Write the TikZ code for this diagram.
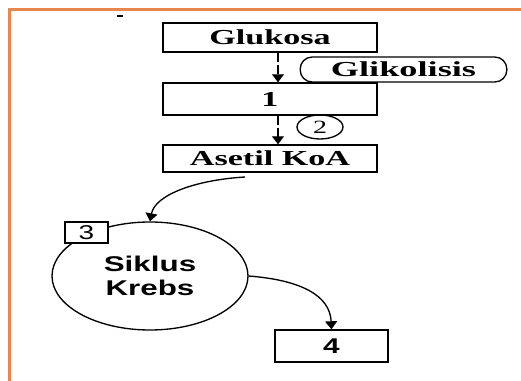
\documentclass[tikz,border=0pt]{standalone}
\usepackage{fontspec}
\usepackage{graphicx}
\setmainfont{Liberation Serif}
\setsansfont{Liberation Sans}
\usetikzlibrary{arrows.meta,shapes.geometric}
\definecolor{framecol}{HTML}{E8874C}
\newcommand{\hstretch}[2]{\scalebox{#1}[1]{#2}}
\begin{document}
\begin{tikzpicture}[x=0.75pt,y=-0.75pt,
  box/.style={draw, line width=1.1pt, inner sep=0pt, font=\fontsize{16}{18}\selectfont\bfseries},
  arr/.style={line width=1pt, -{Triangle[width=9pt,length=6pt]}},
  varr/.style={arr, dash pattern=on 7pt off 2pt},
  ]
\useasboundingbox (0,0) rectangle (521,381);
\fill[white] (0,0) rectangle (521,381);
\draw[framecol, line width=2.7pt] (9.5,381) -- (9.5,9.5) -- (521,9.5);
\draw[line width=1.5pt] (117,16.5) -- (123,16.5);

\node[box, minimum width=160.5pt, minimum height=21.75pt] (glu) at (270,37.5) {\hstretch{1.6}{Glukosa}};
\node[box, minimum width=160.5pt, minimum height=24pt] (one) at (270,99) {\hstretch{1.6}{1}};
\node[box, minimum width=160.5pt, minimum height=20.25pt] (ase) at (270,158.5) {\hstretch{1.6}{Asetil KoA}};

\node[draw, line width=1pt, rounded corners=9pt, minimum width=155pt, minimum height=18.75pt, inner sep=0pt, font=\fontsize{16}{18}\selectfont\bfseries] (gli) at (403.5,69.5) {\hstretch{1.7}{Glikolisis}};
\node[draw, ellipse, line width=1pt, minimum width=34.5pt, minimum height=18pt, inner sep=0pt, font=\fontsize{14}{14}\selectfont] (two) at (320,127) {\hstretch{1.5}{2}};

\coordinate (ax) at (278,0);
\draw[varr] (glu.south -| ax) -- (one.north -| ax);
\draw[varr] (one.south -| ax) -- (ase.north -| ax);

\node[draw, ellipse, line width=1pt, minimum width=147pt, minimum height=81pt, inner sep=0pt, align=center, font=\sffamily\bfseries\fontsize{16}{17.5}\selectfont] (krebs) at (150,276) {\hstretch{1.47}{Siklus}\\\hstretch{1.47}{Krebs}};
\node[draw, fill=white, line width=1pt, minimum width=32.25pt, minimum height=15.75pt, inner sep=0pt, font=\sffamily\fontsize{15}{15}\selectfont] (three) at (86.5,232.5) {\hstretch{1.4}{3}};
\node[box, font=\sffamily\bfseries\fontsize{16}{16}\selectfont, minimum width=84.75pt, minimum height=24pt] (four) at (331.5,346) {\hstretch{1.4}{4}};

\coordinate (c1) at (245,177);
\draw[arr] (c1) .. controls (195,180) and (155,195) .. (krebs.north);
\draw[arr] (krebs.east) .. controls (300,280) and (330,295) .. (four.north);
\end{tikzpicture}
\end{document}
